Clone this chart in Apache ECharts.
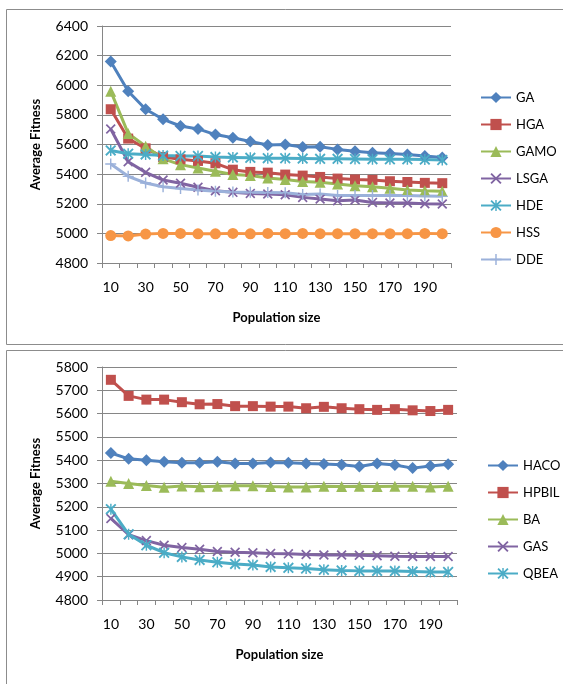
<!DOCTYPE html>
<html>
<head>
<meta charset="utf-8">
<script src="https://cdn.jsdelivr.net/npm/echarts@6/dist/echarts.min.js"></script>
<style>
  html, body { margin: 0; padding: 0; background: #fff; }
  #chart { width: 563px; height: 684px; }
</style>
</head>
<body>
<div id="chart"></div>
<script>
// population sizes (x axis)
var popSizes = ['10', '20', '30', '40', '50', '60', '70', '80', '90', '100',
    '110', '120', '130', '140', '150', '160', '170', '180', '190', '200'];

// top chart
var gaData = [6160, 5960, 5838, 5770, 5725, 5705, 5667, 5646, 5620, 5597, 5600, 5583, 5585, 5567, 5555, 5545, 5540, 5533, 5522, 5513];
var hgaData = [5838, 5640, 5574, 5516, 5500, 5489, 5473, 5430, 5415, 5410, 5397, 5390, 5381, 5370, 5364, 5361, 5352, 5347, 5341, 5339];
var gamoData = [5960, 5675, 5588, 5503, 5464, 5442, 5419, 5397, 5390, 5374, 5363, 5351, 5345, 5333, 5322, 5315, 5304, 5293, 5288, 5284];
var lsgaData = [5705, 5484, 5412, 5360, 5338, 5311, 5288, 5277, 5270, 5266, 5261, 5243, 5232, 5220, 5225, 5209, 5205, 5205, 5200, 5198];
var hdeData = [5560, 5538, 5533, 5525, 5522, 5522, 5515, 5513, 5510, 5508, 5507, 5505, 5503, 5503, 5502, 5501, 5500, 5500, 5498, 5495];
var hssData = [4985, 4983, 4995, 5000, 5000, 4997, 4997, 5000, 4997, 5000, 4998, 5000, 4998, 4998, 4998, 4998, 4998, 4998, 5000, 4998];
var ddeData = [5468, 5385, 5340, 5315, 5303, 5293, 5285, 5280, 5278, 5276, 5274, 5262, 5266, 5256, 5255, 5255, 5256, 5255, 5253, 5250];

// bottom chart
var hacoData = [5431, 5406, 5400, 5393, 5389, 5389, 5393, 5386, 5386, 5390, 5389, 5386, 5384, 5380, 5373, 5386, 5379, 5366, 5375, 5383];
var hpbilData = [5745, 5676, 5660, 5660, 5649, 5640, 5641, 5632, 5632, 5630, 5630, 5623, 5629, 5623, 5619, 5616, 5619, 5614, 5611, 5616];
var baData = [5310, 5300, 5291, 5284, 5289, 5286, 5288, 5290, 5290, 5287, 5285, 5285, 5288, 5287, 5288, 5287, 5288, 5288, 5285, 5288];
var gasData = [5150, 5080, 5055, 5035, 5025, 5018, 5008, 5005, 5003, 5000, 4998, 4995, 4993, 4993, 4992, 4990, 4988, 4987, 4987, 4987];
var qbeaData = [5190, 5082, 5035, 5003, 4985, 4972, 4962, 4955, 4950, 4942, 4938, 4935, 4930, 4927, 4925, 4925, 4924, 4922, 4920, 4920];

var FONT = 'Lato, "Liberation Sans", sans-serif';
var GRID_GRAY = '#868686';

// excel-like markers
var xMark = 'path://M0,1.2L1.2,0L5,3.8L8.8,0L10,1.2L6.2,5L10,8.8L8.8,10L5,6.2L1.2,10L0,8.8L3.8,5Z';
var starMark = 'path://M0,1.2L1.2,0L5,3.8L8.8,0L10,1.2L6.2,5L10,8.8L8.8,10L5,6.2L1.2,10L0,8.8L3.8,5Z' +
    'M4.35,0L5.65,0L5.65,10L4.35,10Z';
var plusMark = 'path://M4.35,0L5.65,0L5.65,4.35L10,4.35L10,5.65L5.65,5.65L5.65,10L4.35,10L4.35,5.65L0,5.65L0,4.35L4.35,4.35Z';

function makeLine(name, data, color, symbol, size, idx) {
    return {
        name: name,
        type: 'line',
        data: data,
        xAxisIndex: idx,
        yAxisIndex: idx,
        symbol: symbol,
        symbolSize: size,
        showAllSymbol: true,
        lineStyle: { color: color, width: 3 },
        itemStyle: { color: color },
        emphasis: { disabled: true }
    };
}

function xAxisFor(idx) {
    return {
        type: 'category',
        gridIndex: idx,
        data: popSizes,
        boundaryGap: true,
        name: 'Population size',
        nameLocation: 'middle',
        nameGap: 48,
        nameTextStyle: { fontFamily: FONT, fontSize: 13, fontWeight: 'bold', color: '#000' },
        axisLine: { lineStyle: { color: GRID_GRAY, width: 1 } },
        axisTick: { show: true, interval: 0, length: 5, lineStyle: { color: GRID_GRAY } },
        axisLabel: { interval: 1, margin: 17, fontFamily: FONT, fontSize: 14, color: '#000' },
        splitLine: { show: false }
    };
}

function yAxisFor(idx, min, max, step) {
    return {
        type: 'value',
        gridIndex: idx,
        min: min,
        max: max,
        interval: step,
        name: 'Average Fitness',
        nameLocation: 'middle',
        nameRotate: 90,
        nameGap: 60,
        nameTextStyle: { fontFamily: FONT, fontSize: 13, fontWeight: 'bold', color: '#000' },
        axisLine: { show: true, lineStyle: { color: GRID_GRAY, width: 1 } },
        axisTick: { show: true, length: 5, lineStyle: { color: GRID_GRAY } },
        axisLabel: {
            margin: 14, fontFamily: FONT, fontSize: 14, color: '#000',
            formatter: function (v) { return String(v); }
        },
        splitLine: { show: true, lineStyle: { color: GRID_GRAY, width: 1 } }
    };
}

function legendFor(names, left, top, gap) {
    return {
        orient: 'vertical',
        left: left,
        top: top,
        data: names,
        itemWidth: 30,
        itemHeight: 14,
        itemGap: gap - 14,
        textStyle: { fontFamily: FONT, fontSize: 13, color: '#000' }
    };
}

var option = {
    animation: false,
    backgroundColor: '#fff',
    graphic: [
        { type: 'rect', shape: { x: 6.5, y: 9.5, width: 600, height: 335 },
          style: { fill: 'none', stroke: '#8c8c8c', lineWidth: 1 }, silent: true, z: -10 },
        { type: 'rect', shape: { x: 6.5, y: 350.5, width: 600, height: 340 },
          style: { fill: 'none', stroke: '#8c8c8c', lineWidth: 1 }, silent: true, z: -10 }
    ],
    grid: [
        { left: 102, top: 26, width: 349, height: 237, containLabel: false },
        { left: 102, top: 367, width: 355, height: 233, containLabel: false }
    ],
    legend: [
        legendFor(['GA', 'HGA', 'GAMO', 'LSGA', 'HDE', 'HSS', 'DDE'], 475, 86, 28),
        legendFor(['HACO', 'HPBIL', 'BA', 'GAS', 'QBEA'], 482, 454, 28)
    ],
    xAxis: [xAxisFor(0), xAxisFor(1)],
    yAxis: [yAxisFor(0, 4800, 6400, 200), yAxisFor(1, 4800, 5800, 100)],
    series: [
        makeLine('GA', gaData, '#4F81BD', 'diamond', 12, 0),
        makeLine('HGA', hgaData, '#C0504D', 'rect', 10, 0),
        makeLine('GAMO', gamoData, '#9BBB59', 'triangle', 11, 0),
        makeLine('LSGA', lsgaData, '#8064A2', xMark, 10, 0),
        makeLine('HDE', hdeData, '#4BACC6', starMark, 11, 0),
        makeLine('HSS', hssData, '#F79646', 'circle', 11, 0),
        makeLine('DDE', ddeData, '#9BB1DA', plusMark, 11, 0),

        makeLine('HACO', hacoData, '#4F81BD', 'diamond', 12, 1),
        makeLine('HPBIL', hpbilData, '#C0504D', 'rect', 10, 1),
        makeLine('BA', baData, '#9BBB59', 'triangle', 11, 1),
        makeLine('GAS', gasData, '#8064A2', xMark, 10, 1),
        makeLine('QBEA', qbeaData, '#4BACC6', starMark, 11, 1)
    ]
};

var myChart = echarts.init(document.getElementById('chart'), null, { renderer: 'canvas' });
myChart.setOption(option);
</script>
</body>
</html>
